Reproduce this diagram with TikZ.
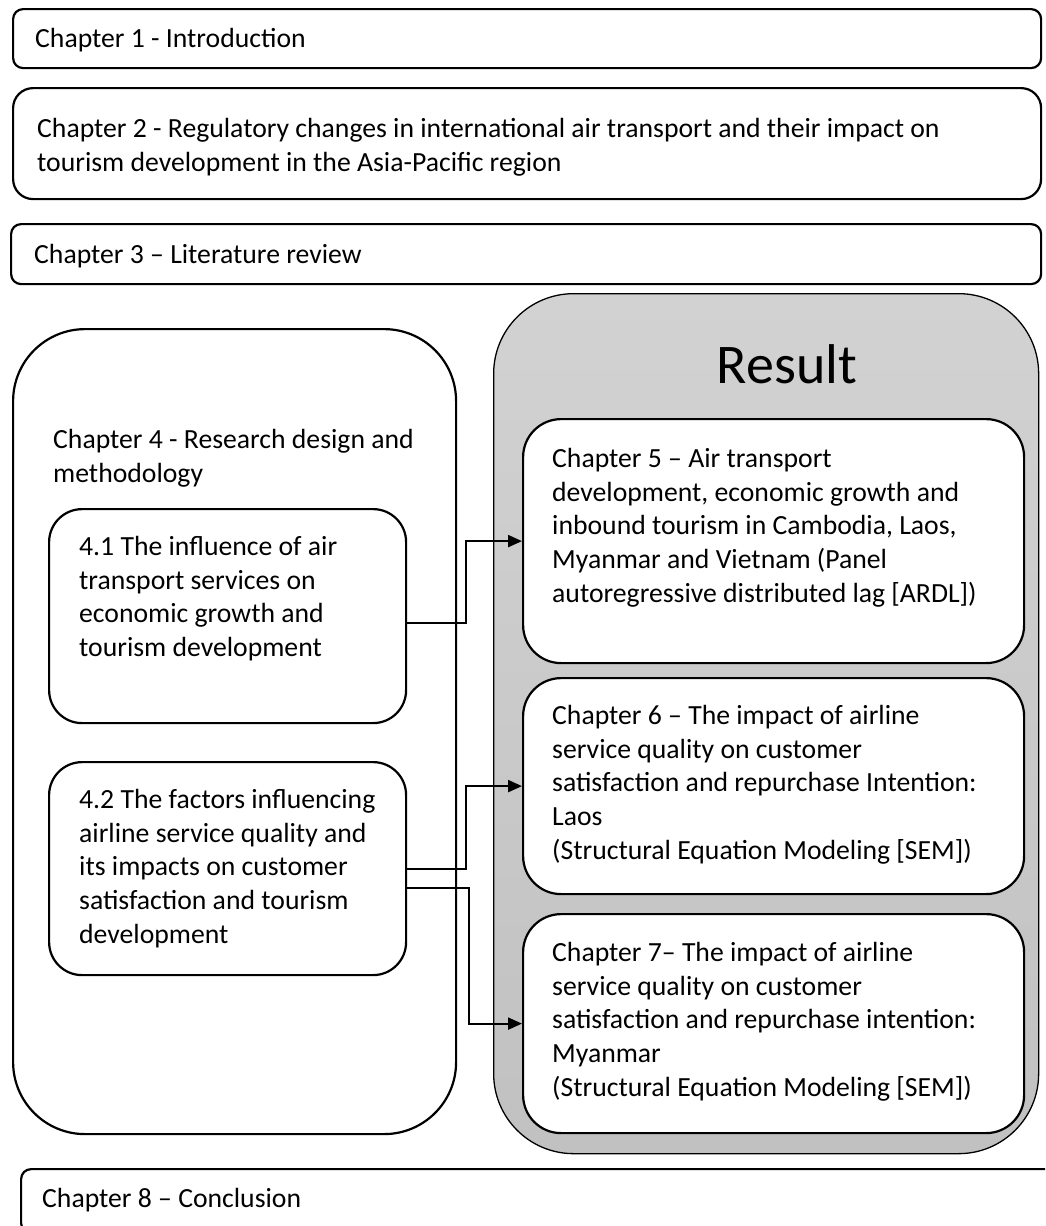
\documentclass[tikz,border=0pt]{standalone}
\usepackage{fontspec}
\setmainfont{Carlito}
\usetikzlibrary{arrows.meta}
\newcommand\bodysize{\fontsize{27.7pt}{33.8pt}\selectfont}
\newcommand\lnstrut{\rule{0pt}{22pt}}
\definecolor{resTop}{RGB}{210,210,210}
\definecolor{resBot}{RGB}{193,193,193}
\begin{document}
\begin{tikzpicture}[x=1pt,y=-1pt,
  chapbox/.style={draw=black, line width=2.2pt, fill=white, rectangle,
    inner sep=0pt, anchor=north west},
  txt/.style={font=\bodysize, inner sep=0pt, anchor=north west, align=left},
  arr/.style={line width=2.2pt, -{Triangle[length=14pt,width=12pt]}},
]
\useasboundingbox (0,0) rectangle (1045,1226);
\clip (0,0) rectangle (1045,1226);
\fill[white] (0,0) rectangle (1045,1226);

% chapters 1-3
\node[chapbox, rounded corners=10pt, minimum width=1028pt, minimum height=59pt] (c1) at (12,8) {};
\node[txt] (t1) at (35,25) {\lnstrut Chapter 1 - Introduction};
\node[chapbox, rounded corners=20pt, minimum width=1028pt, minimum height=111pt] (c2) at (12,87) {};
\node[txt] (t2) at (37,115) {\lnstrut Chapter 2 - Regulatory changes in international air transport and their impact on\\tourism development in the Asia-Pacific region};
\node[chapbox, rounded corners=10pt, minimum width=1030pt, minimum height=60pt] (c3) at (10,223) {};
\node[txt] (t3) at (34,241) {\lnstrut Chapter 3 – Literature review};

% chapter 4 with its two parts
\node[chapbox, rounded corners=72pt, minimum width=443pt, minimum height=805pt] (c4) at (12,328) {};
\node[txt] (t4) at (53,426) {\lnstrut Chapter 4 - Research design and\\methodology};
\node[chapbox, rounded corners=33pt, minimum width=357pt, minimum height=214pt] (b41) at (48,508) {};
\node[txt] (t41) at (79,533) {\lnstrut 4.1 The influence of air\\transport services on\\economic growth and\\tourism development};
\node[chapbox, rounded corners=33pt, minimum width=357pt, minimum height=213pt] (b42) at (48,761) {};
\node[txt] (t42) at (79,786) {\lnstrut 4.2 The factors influencing\\airline service quality and\\its impacts on customer\\satisfaction and tourism\\development};

% result panel
\node[draw=black, line width=1.3pt, rounded corners=80pt, top color=resTop, bottom color=resBot,
  rectangle, inner sep=0pt, anchor=north west, minimum width=545pt, minimum height=860pt] (res) at (493,293) {};
\node[font=\fontsize{56pt}{62pt}\selectfont, inner sep=0pt, anchor=base] (rt) at (787,383) {Result};

\node[chapbox, rounded corners=38pt, minimum width=501pt, minimum height=244pt] (c5) at (522,418) {};
\node[txt] (t5) at (552,445) {\lnstrut Chapter 5 – Air transport\\development, economic growth and\\inbound tourism in Cambodia, Laos,\\Myanmar and Vietnam (Panel\\autoregressive distributed lag [ARDL])};
\node[chapbox, rounded corners=38pt, minimum width=501pt, minimum height=216pt] (c6) at (522,677) {};
\node[txt] (t6) at (552,702) {\lnstrut Chapter 6 – The impact of airline\\service quality on customer\\satisfaction and repurchase Intention:\\Laos\\(Structural Equation Modeling [SEM])};
\node[chapbox, rounded corners=38pt, minimum width=501pt, minimum height=219pt] (c7) at (522,913) {};
\node[txt] (t7) at (552,939) {\lnstrut Chapter 7– The impact of airline\\service quality on customer\\satisfaction and repurchase intention:\\Myanmar\\(Structural Equation Modeling [SEM])};

% connectors
\draw[arr] ([yshift=-7pt]b41.east) -- ++(59,0) |- (c5.west);
\draw[arr] (b42.east) -- ++(59,0) |- (c6.west);
\draw[arr] ([yshift=-19.5pt]b42.east) -- ++(61.5,0) |- (c7.west);

% chapter 8
\node[chapbox, rounded corners=10pt, minimum width=1060pt, minimum height=64pt] (c8) at (20,1168) {};
\node[txt] (t8) at (42,1185) {\lnstrut Chapter 8 – Conclusion};
\end{tikzpicture}
\end{document}
